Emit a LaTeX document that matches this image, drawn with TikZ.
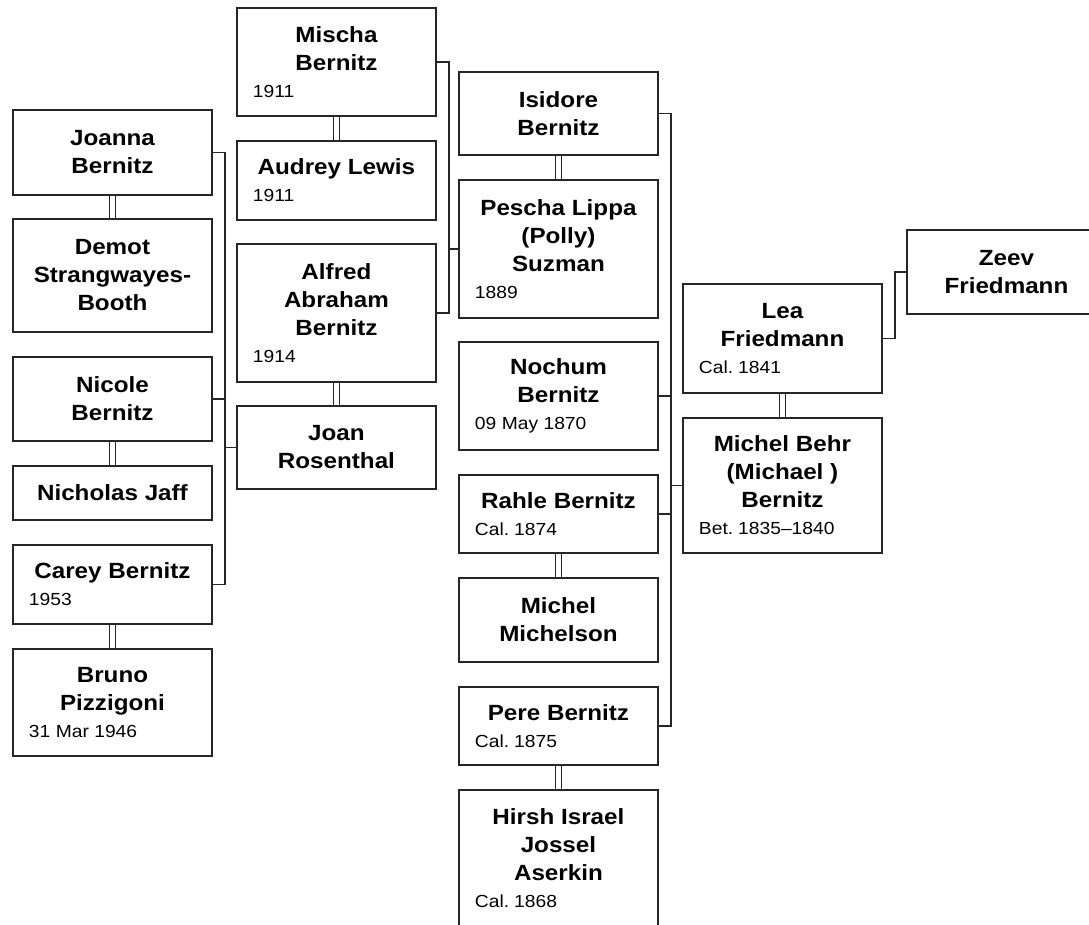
\documentclass[tikz,border=0pt]{standalone}
\usepackage{fontspec}
\setmainfont{Liberation Sans}
\newfontfamily\famtree[FakeStretch=1.1]{Liberation Sans}
\newcommand\namestyle{\famtree\bfseries\fontsize{22}{28}\selectfont\spaceskip=0.31em\relax}
\newcommand\datestyle{\famtree\fontsize{17.5}{27}\selectfont\spaceskip=0.31em\relax}
\newcommand\pers[1]{\parindent=0pt{\namestyle\centering #1\par}}
\newcommand\persd[2]{\parindent=0pt{\namestyle\centering #1\par}{\datestyle #2\par}}
\tikzset{
  person/.style={draw=black!85, line width=1.9pt, rectangle, anchor=north west,
    text width=167pt, inner xsep=16pt, inner ysep=0pt, minimum height=#1},
  conn/.style={draw=black!85, line width=1.9pt},
}
\begin{document}
\begin{tikzpicture}[x=1pt,y=-1pt]
\useasboundingbox (0,0) rectangle (1089,924);
% column 1
\node[person=85]  (joanna) at (12,109) {\pers{Joanna\\Bernitz}};
\node[person=113] (demot)  at (12,218) {\pers{Demot\\Strangwayes-\\Booth}};
\node[person=84]  (nicole) at (12,356) {\pers{Nicole\\Bernitz}};
\node[person=54]  (jaff)   at (12,465) {\pers{Nicholas Jaff}};
\node[person=79]  (carey)  at (12,544) {\persd{Carey Bernitz}{1953}};
\node[person=107] (bruno)  at (12,648) {\persd{Bruno\\Pizzigoni}{31 Mar 1946}};
% column 2
\node[person=108] (mischa) at (236,7)   {\persd{Mischa\\Bernitz}{1911}};
\node[person=79]  (audrey) at (236,140) {\persd{Audrey Lewis}{1911}};
\node[person=138] (alfred) at (236,243) {\persd{Alfred\\Abraham\\Bernitz}{1914}};
\node[person=83]  (joan)   at (236,405) {\pers{Joan\\Rosenthal}};
% column 3
\node[person=83]  (isidore)   at (458,71)  {\pers{Isidore\\Bernitz}};
\node[person=138] (pescha)    at (458,179) {\persd{Pescha Lippa\\(Polly)\\Suzman}{1889}};
\node[person=108] (nochum)    at (458,341) {\persd{Nochum\\Bernitz}{09 May 1870}};
\node[person=78]  (rahle)     at (458,474) {\persd{Rahle Bernitz}{Cal. 1874}};
\node[person=84]  (michelson) at (458,577) {\pers{Michel\\Michelson}};
\node[person=78]  (pere)      at (458,686) {\persd{Pere Bernitz}{Cal. 1875}};
\node[person=137] (hirsh)     at (458,789) {\persd{Hirsh Israel\\Jossel\\Aserkin}{Cal. 1868}};
% column 4
\node[person=109] (lea)  at (682,283) {\persd{Lea\\Friedmann}{Cal. 1841}};
\node[person=135] (behr) at (682,417) {\persd{Michel Behr\\(Michael )\\Bernitz}{Bet. 1835–1840}};
% column 5
\node[person=84]  (zeev) at (906,229) {\pers{Zeev\\Friedmann}};

% spouse double lines
\foreach \a/\b in {joanna/demot, nicole/jaff, carey/bruno, mischa/audrey, alfred/joan,
                   isidore/pescha, rahle/michelson, pere/hirsh, lea/behr}{
  \draw[conn, line width=1.5pt] ([xshift=-3pt]\a.south) -- ([xshift=-3pt]\b.north);
  \draw[conn, line width=1.5pt] ([xshift=3pt]\a.south) -- ([xshift=3pt]\b.north);
}

% children brackets
\draw[conn] (joanna.east) -- ++(12,0) coordinate (k1) |- (carey.east);
\draw[conn] (nicole.east) -- (nicole.east -| k1);
\draw[conn] (joan.west) -- (joan.west -| k1);

\draw[conn] (mischa.east) -- ++(12,0) coordinate (k2) |- (alfred.east);
\draw[conn] (pescha.west) -- (pescha.west -| k2);

\draw[conn] (isidore.east) -- ++(12,0) coordinate (k3) |- (pere.east);
\draw[conn] (nochum.east) -- (nochum.east -| k3);
\draw[conn] (rahle.east) -- (rahle.east -| k3);
\draw[conn] (behr.west) -- (behr.west -| k3);

\draw[conn] (lea.east) -- ++(12,0) coordinate (k4) |- (zeev.west);
\end{tikzpicture}
\end{document}
